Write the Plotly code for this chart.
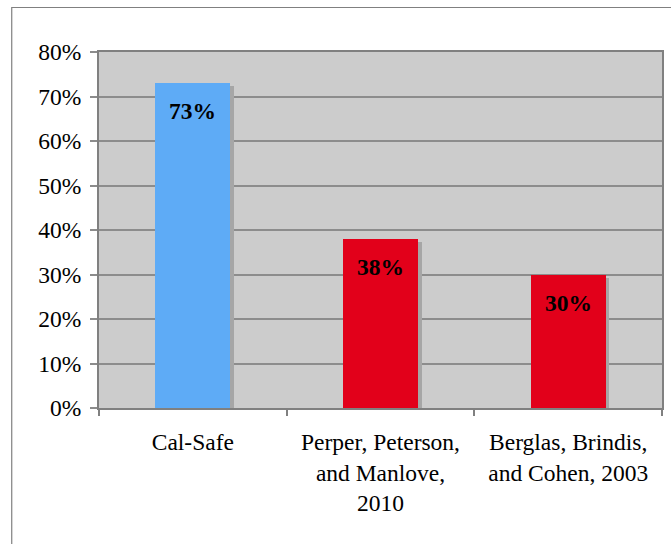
import plotly.graph_objects as go

categories = ["Cal-Safe", "Perper, Peterson,<br>and Manlove,<br>2010", "Berglas, Brindis,<br>and Cohen, 2003"]
values = [73, 38, 30]
labels = ["73%", "38%", "30%"]
colors = ["#5eabf6", "#e2001a", "#e2001a"]

SERIF = "Liberation Serif"

fig = go.Figure()
# shadow
fig.add_trace(go.Bar(x=categories, y=[v - 0.7 for v in values], width=0.4, offset=-0.18,
                     marker=dict(color="#a6a6a6", line=dict(width=0)), hoverinfo="skip", showlegend=False))
fig.add_trace(go.Bar(x=categories, y=values, width=0.4, offset=-0.2,
                     marker=dict(color=colors, line=dict(width=0)), showlegend=False))

for c, v, t in zip(categories, values, labels):
    fig.add_annotation(x=c, y=v, text=t, showarrow=False, yanchor="middle", yshift=-28,
                       font=dict(family=SERIF, size=23.5, color="black", weight="bold"))

fig.update_layout(
    width=671, height=544,
    margin=dict(l=99, r=9, t=52, b=136, autoexpand=False),
    paper_bgcolor="white", plot_bgcolor="#cccccc",
    barmode="overlay", bargap=0,
    font=dict(family=SERIF, size=23.5, color="black"),
)
fig.update_yaxes(range=[0, 80], dtick=10, ticksuffix="%", showgrid=True, gridcolor="#8c8c8c", gridwidth=1.5,
                 ticks="outside", ticklen=7, tickcolor="#8c8c8c", tickwidth=1.5,
                 showline=True, linecolor="#808080", linewidth=2, mirror=True, zeroline=False,
                 tickfont=dict(family=SERIF, size=23.5, color="black"), ticklabelstandoff=4,
                 automargin=False)
fig.update_xaxes(ticks="outside", tickson="boundaries", ticklen=6, tickcolor="#808080", tickwidth=1.5,
                 showline=True, linecolor="#808080", linewidth=2, mirror=True,
                 tickfont=dict(family=SERIF, size=23.5, color="black"), ticklabelstandoff=12,
                 automargin=False)
fig.add_shape(type="rect", xref="paper", yref="paper", x0=-0.155, x1=1.2, y0=-0.6, y1=1.125,
              line=dict(color="#808080", width=1.2), fillcolor="rgba(0,0,0,0)", layer="below")
fig.write_html("out.html", config={"displayModeBar": False},
               post_script="document.body.style.margin='0';document.body.style.overflow='hidden';")
